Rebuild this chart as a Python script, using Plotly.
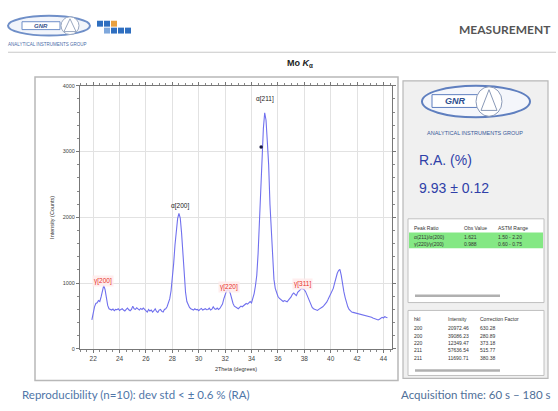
import plotly.graph_objects as go

W, H = 558, 411

# ---- data ----
two_theta = [21.9,
 22.0,22.1,22.2,22.3,22.4,22.5,22.6,22.7,22.8,22.9,
 23.0,23.1,23.2,23.3,23.4,23.5,23.6,23.7,23.8,23.9,
 24.0,24.1,24.2,24.3,24.4,24.5,24.6,24.7,24.8,24.9,
 25.0,25.1,25.2,25.3,25.4,25.5,25.6,25.7,25.8,25.9,
 26.0,26.1,26.2,26.3,26.4,26.5,26.6,26.7,26.8,26.9,
 27.0,27.1,27.2,27.3,27.4,27.5,27.6,27.7,27.8,27.9,
 28.0,28.1,28.2,28.3,28.4,28.5,28.6,28.7,28.8,28.9,
 29.0,29.1,29.2,29.3,29.4,29.5,29.6,29.7,29.8,29.9,
 30.0,30.1,30.2,30.3,30.4,30.5,30.6,30.7,30.8,30.9,
 31.0,31.1,31.2,31.3,31.4,31.5,31.6,31.7,31.8,31.9,
 32.0,32.1,32.2,32.3,32.4,32.5,32.6,32.7,32.8,32.9,
 33.0,33.1,33.2,33.3,33.4,33.5,33.6,33.7,33.8,33.9,
 34.0,34.1,34.2,34.3,34.4,34.5,34.6,34.7,34.8,34.9,
 35.0,35.1,35.2,35.3,35.4,35.5,35.6,35.7,35.8,35.9,
 36.0,36.1,36.2,36.3,36.4,36.5,36.6,36.7,36.8,36.9,
 37.0,37.1,37.2,37.3,37.4,37.5,37.6,37.7,37.8,37.9,
 38.0,38.1,38.2,38.3,38.4,38.5,38.6,38.7,38.8,38.9,
 39.0,39.1,39.2,39.3,39.4,39.5,39.6,39.7,39.8,39.9,
 40.0,40.1,40.2,40.3,40.4,40.5,40.6,40.7,40.8,40.9,
 41.0,41.1,41.2,41.3,41.4,41.5,41.6,41.7,41.8,41.9,
 42.0,42.1,42.2,42.3,42.4,42.5,42.6,42.7,42.8,42.9,
 43.0,43.1,43.2,43.3,43.4,43.5,43.6,43.7,43.8,43.9,
 44.0,44.1,44.2,44.3]

counts = [440,
 560,640,690,700,735,720,790,900,965,900,
 780,660,610,600,590,605,580,600,595,610,
 585,600,610,590,575,600,620,595,580,600,
 650,610,600,625,605,590,615,600,620,600,
 585,560,600,575,590,560,580,610,570,555,
 590,600,570,560,600,610,640,690,760,880,
 1050,1300,1580,1820,1980,2060,1990,1760,1420,1100,
 860,720,660,630,610,600,590,610,595,600,
 580,600,615,590,605,610,595,600,620,590,
 605,640,610,600,620,600,615,640,680,760,
 830,880,900,890,840,760,690,650,640,620,
 610,630,650,640,660,670,690,680,700,720,
 700,760,840,960,1120,1450,1900,2450,2950,3350,
 3590,3480,3150,2800,2200,1750,1300,1060,920,850,
 800,770,750,740,720,735,730,715,740,760,
 790,830,850,830,810,860,880,890,920,910,
 900,870,820,760,700,660,630,610,600,590,
 585,600,610,625,640,660,680,710,750,790,
 830,870,920,1000,1080,1150,1190,1210,1120,960,
 870,780,700,640,600,575,560,555,550,545,
 540,530,535,520,515,510,505,500,495,490,
 485,480,470,465,450,445,440,450,470,480,
 470,490,480,475]

marker_x = [34.73]
marker_y = [3070]

peak_labels = ["γ[200]", "α[200]", "γ[220]", "α[211]", "γ[311]"]
peak_label_x = [22.78, 28.55, 32.3, 35.0, 37.9]
peak_label_y = [1030, 2170, 940, 3800, 985]
peak_label_colors = ["#e8302a", "#222222", "#e8302a", "#222222", "#e8302a"]

x_ticks = [22, 24, 26, 28, 30, 32, 34, 36, 38, 40, 42, 44]
y_ticks = [0, 1000, 2000, 3000, 4000]

ratio_header = ["Peak Ratio", "Obs Value", "ASTM Range"]
ratio_names = ["α(211)/α(200)", "γ(220)/γ(200)"]
ratio_values = ["1.621", "0.988"]
ratio_ranges = ["1.50 - 2.20", "0.60 - 0.75"]

hkl_header = ["hkl", "Intensity", "Correction Factor"]
hkl = ["200", "200", "220", "211", "211"]
intensities = ["20972.46", "39086.23", "12349.47", "57636.54", "11690.71"]
corr_factors = ["630.28", "280.89", "373.18", "515.77", "380.38"]


def px(x):
    return x / W


def py(y):
    return 1 - y / H


shapes = []
annotations = []


def ann(text, x, y, size, color, family="Liberation Sans", xanchor="center",
        weight="normal", style="normal", **kw):
    annotations.append(dict(text=text, x=px(x), y=py(y), xref="paper", yref="paper",
                            xanchor=xanchor, yanchor="middle", showarrow=False,
                            font=dict(size=size, color=color, family=family,
                                      weight=weight, style=style), **kw))


def rect(x0, y0, x1, y1, fill, line="rgba(0,0,0,0)", lw=0, layer="above"):
    shapes.append(dict(type="rect", xref="paper", yref="paper", layer=layer,
                       x0=px(x0), x1=px(x1), y0=py(y1), y1=py(y0),
                       line=dict(color=line, width=lw), fillcolor=fill))


def ellipse(x0, y0, x1, y1, fill, line, lw):
    shapes.append(dict(type="circle", xref="paper", yref="paper",
                       x0=px(x0), x1=px(x1), y0=py(y1), y1=py(y0),
                       line=dict(color=line, width=lw), fillcolor=fill))


def tri(cx, top, half, bottom, color):
    shapes.append(dict(type="path", xref="paper", yref="paper",
                       path=f"M {px(cx)},{py(top)} L {px(cx-half)},{py(bottom)} L {px(cx+half)},{py(bottom)} Z",
                       line=dict(color=color, width=1)))


fig = go.Figure()
fig.add_trace(go.Scatter(x=two_theta, y=counts, mode="lines",
                         line=dict(color="#7070ee", width=1.1),
                         hoverinfo="skip", showlegend=False))
fig.add_trace(go.Scatter(x=marker_x, y=marker_y, mode="markers",
                         marker=dict(color="#1a1a40", size=3.5),
                         hoverinfo="skip", showlegend=False))

# header line
shapes.append(dict(type="line", xref="paper", yref="paper",
                   x0=px(8), x1=px(556), y0=py(50), y1=py(50),
                   line=dict(color="#c8c8c8", width=1.2)))

# top-left logo
ellipse(8, 13, 90, 33, "#f2f5fb", "#6f8fc8", 2)
rect(22, 19, 60, 27, "#ffffff", "#6f8fc8", 1)
ellipse(61, 14, 79, 32, "#ffffff", "#9aa8c0", 1)
tri(70, 16, 6, 29, "#9aa8c0")
ann("GNR", 41, 23, 6, "#35508a", weight="bold", style="italic")
ann("ANALYTICAL INSTRUMENTS GROUP", 47, 42, 4.5, "#4a6aa8")
# blue squares
for (x0, y0, c) in [(97, 18, "#2f6fc0"), (104, 18, "#2f6fc0"), (111, 18, "#e8a040"),
                    (111, 25, "#2f6fc0"), (118, 25, "#2f6fc0"), (125, 25, "#2f6fc0"),
                    (104, 25, "#7fa8dc")]:
    rect(x0, y0, x0 + 6, y0 + 6, c)

ann("MEASUREMENT", 553, 27, 12, "#555555", family="Lato", xanchor="right", weight="bold")
ann("<b>Mo <i>K</i><sub>α</sub></b>", 300, 61, 9, "#222222")

# chart window frame
rect(35, 75, 398, 383, "#ffffff", "#b8b8b8", 1.5, layer="below")

# right panel
rect(403, 79, 548, 381, "#f0f0f0", "#b8b8b8", 1.2, layer="below")
ellipse(422, 84, 530, 116, "#f4f6fb", "#5f7fbf", 2)
rect(432, 93, 478, 106, "#ffffff", "#5f7fbf", 1)
ellipse(476, 85, 502, 115, "#ffffff", "#8a9ab8", 1)
tri(489, 88, 8, 109, "#8a9ab8")
ann("GNR", 455, 99.5, 9, "#2f4f8f", weight="bold", style="italic")
ann("ANALYTICAL INSTRUMENTS GROUP", 475, 132, 5.5, "#3a5a9a")
ann("R.A. (%)", 417, 159, 14, "#2f3fa8", xanchor="left")
ann("9.93 ± 0.12", 417, 188, 14, "#2f3fa8", xanchor="left")

# ratio table
rect(408, 219, 544, 304, "#ffffff", "#c0c0c0", 1)
rect(409, 233, 543, 249, "#84e884")
shapes.append(dict(type="line", xref="paper", yref="paper",
                   x0=px(415), x1=px(500), y0=py(297), y1=py(297),
                   line=dict(color="#b0b0b0", width=2.5)))
col_x = [412, 462, 496]
for j, t in enumerate(ratio_header):
    ann(t, col_x[j], 228, 5, "#333333", xanchor="left")
for i in range(len(ratio_names)):
    yy = 237 + i * 8
    for j, t in enumerate([ratio_names[i], ratio_values[i], ratio_ranges[i]]):
        ann(t, col_x[j], yy, 5, "#333333", xanchor="left")

# hkl table
rect(408, 312, 544, 378, "#ffffff", "#c0c0c0", 1)
shapes.append(dict(type="line", xref="paper", yref="paper",
                   x0=px(415), x1=px(500), y0=py(373), y1=py(373),
                   line=dict(color="#b0b0b0", width=2.5)))
col_x2 = [412, 446, 478]
for j, t in enumerate(hkl_header):
    ann(t, col_x2[j], 321, 5, "#333333", xanchor="left")
for i in range(len(hkl)):
    yy = 330 + i * 7.5
    for j, t in enumerate([hkl[i], intensities[i], corr_factors[i]]):
        ann(t, col_x2[j], yy, 5, "#333333", xanchor="left")

# peak labels
for t, xx, yy, c in zip(peak_labels, peak_label_x, peak_label_y, peak_label_colors):
    annotations.append(dict(text=t, x=xx, y=yy, xref="x", yref="y", showarrow=False,
                            xanchor="center", yanchor="middle",
                            font=dict(size=6.5, color=c, family="Liberation Sans"),
                            bgcolor="rgba(255,235,235,0.85)" if c != "#222222" else None))

# footer texts
ann("Reproducibility (n=10): dev std < ± 0.6 % (RA)", 20, 397, 11.5, "#4f76a8", family="Lato", xanchor="left")
ann("Acquisition time: 60 s – 180 s", 553, 397, 11.5, "#4f6f98", family="Lato", xanchor="right")

fig.update_layout(
    width=W, height=H,
    margin=dict(l=0, r=0, t=0, b=0),
    paper_bgcolor="#ffffff",
    plot_bgcolor="#ffffff",
    shapes=shapes,
    annotations=annotations,
    showlegend=False,
    xaxis=dict(domain=[px(80), px(392)], range=[21.0, 44.65],
               title=dict(text="2Theta (degrees)", standoff=6,
                          font=dict(size=5.5, color="#333333", family="Liberation Sans")),
               tickvals=x_ticks, ticktext=[str(v) for v in x_ticks],
               showgrid=True, gridcolor="#e2e2e2", gridwidth=1,
               showline=True, linecolor="#777777", linewidth=1, mirror="ticks",
               ticks="outside", ticklen=3, tickcolor="#777777",
               minor=dict(dtick=0.5, tick0=22, ticks="outside", ticklen=2, tickcolor="#888888", showgrid=False),
               tickfont=dict(size=6.5, color="#444444", family="Liberation Sans"),
               zeroline=False, fixedrange=True),
    yaxis=dict(domain=[py(351), py(84)], range=[0, 4000],
               title=dict(text="Intensity (Counts)", standoff=7,
                          font=dict(size=5.5, color="#333333", family="Liberation Sans")),
               tickvals=y_ticks, ticktext=[str(v) for v in y_ticks],
               showgrid=True, gridcolor="#e2e2e2", gridwidth=1,
               showline=True, linecolor="#777777", linewidth=1, mirror="ticks",
               ticks="outside", ticklen=3, tickcolor="#777777",
               minor=dict(dtick=200, tick0=0, ticks="outside", ticklen=2, tickcolor="#888888", showgrid=False),
               tickfont=dict(size=5.5, color="#444444", family="Liberation Sans"),
               zeroline=False, fixedrange=True),
)

fig.write_html("out.html", config={"displayModeBar": False},
               post_script="document.body.style.margin='0px';document.body.style.overflow='hidden';")
